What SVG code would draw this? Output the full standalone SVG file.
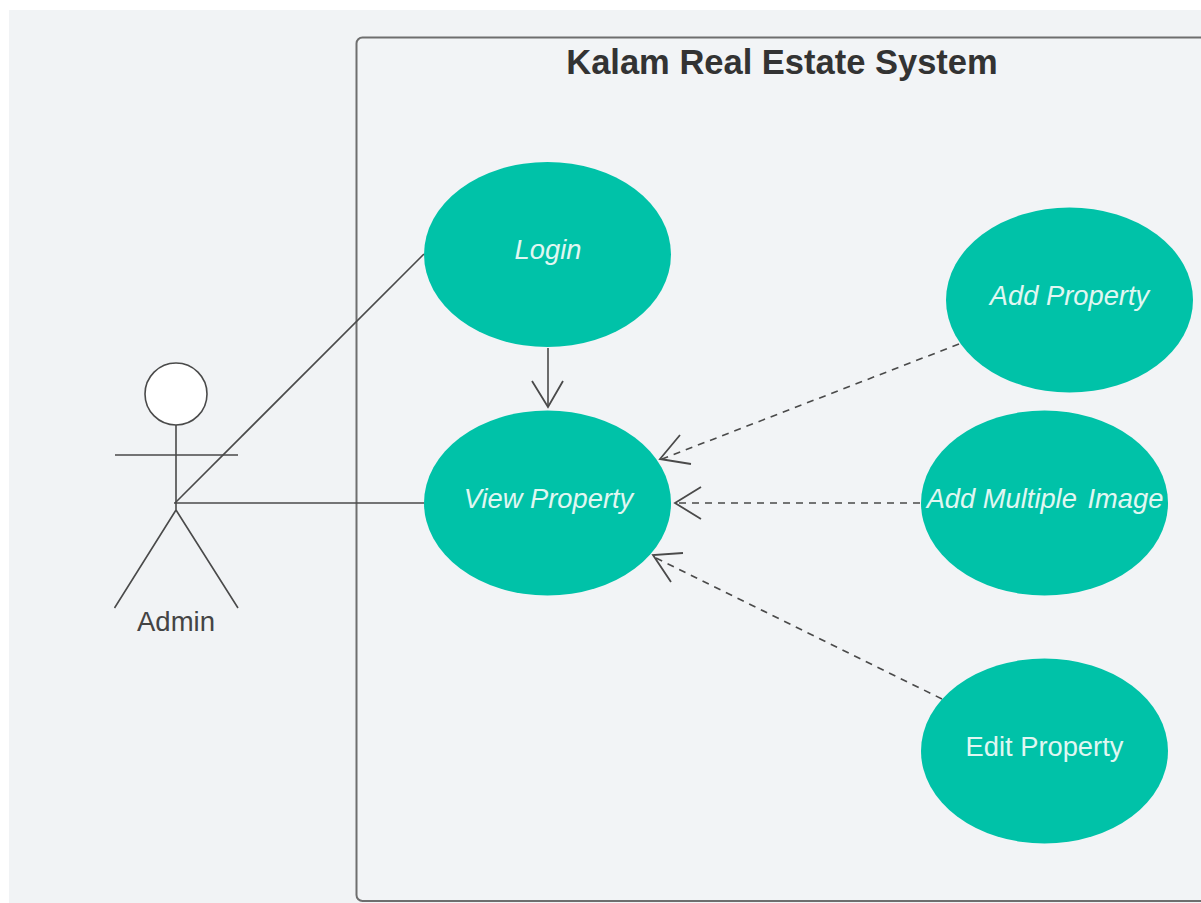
<svg xmlns="http://www.w3.org/2000/svg" width="1201" height="903" viewBox="0 0 1201 903">
<style>
.uc{fill:#00c2a8}
.ut{font-family:"Liberation Sans",Arial,sans-serif;font-size:27.300px;fill:#e0f7f2;text-anchor:middle}
.i{font-style:italic}
.ln{fill:none;stroke:#4a4a4a;stroke-width:1.6}
.ds{stroke-dasharray:7 6}
.hd{fill:none;stroke:#4a4a4a;stroke-width:1.8}
</style>
<rect width="1201" height="903" fill="#fff"/>
<rect x="9" y="10" width="1192" height="893" fill="#f1f3f5"/>
<g id="system">
<rect x="356.5" y="37.5" width="900" height="863.500" rx="6" fill="#f2f4f6" stroke="#6e6e6e" stroke-width="2"/>
<text x="782" y="73.500" font-family="'Liberation Sans',Arial,sans-serif" font-size="34.500" font-weight="700" fill="#333" text-anchor="middle">Kalam Real Estate System</text>
</g>
<g id="connectors">
<path class="ln" d="M175 503L424 254"/>
<path class="ln" d="M174 503H424"/>
<path class="ln" d="M548 348V407"/>
<path class="hd" d="M532 381L548 407L563 381"/>
<path class="ln ds" d="M959 344L662 459"/>
<path class="hd" d="M680 435L660 459L691 464"/>
<path class="ln ds" d="M920 503H676"/>
<path class="hd" d="M701 487L675 503L701 519"/>
<path class="ln ds" d="M942 699L656 558"/>
<path class="hd" d="M683 553L653 555L671 582"/>
</g>
<g id="admin">
<circle cx="176" cy="394" r="31" fill="#fff" stroke="#4a4a4a" stroke-width="1.600"/>
<path class="ln" d="M176 425V510M115 455H238M176 510L114.500 608M176 510L238 608"/>
<text x="176" y="631" font-family="'Liberation Sans',Arial,sans-serif" font-size="27.500" fill="#444" text-anchor="middle">Admin</text>
</g>
<g id="login">
<ellipse class="uc" cx="547.500" cy="254.500" rx="123.500" ry="92.500"/>
<text class="ut i" x="548" y="259">Login</text>
</g>
<g id="view-property">
<ellipse class="uc" cx="547.500" cy="503" rx="123.500" ry="92.500"/>
<text class="ut i" x="548.500" y="508">View Property</text>
</g>
<g id="add-property">
<ellipse class="uc" cx="1069.500" cy="300" rx="123.500" ry="92.500"/>
<text class="ut i" x="1069.500" y="305">Add Property</text>
</g>
<g id="add-multiple-image">
<ellipse class="uc" cx="1044.500" cy="503" rx="123.500" ry="92.500"/>
<text class="ut i" x="1045" y="508">Add Multiple <tspan dx="3">Image</tspan></text>
</g>
<g id="edit-property">
<ellipse class="uc" cx="1044.500" cy="751" rx="123.500" ry="92.500"/>
<text class="ut" x="1044.500" y="756">Edit Property</text>
</g>
</svg>
